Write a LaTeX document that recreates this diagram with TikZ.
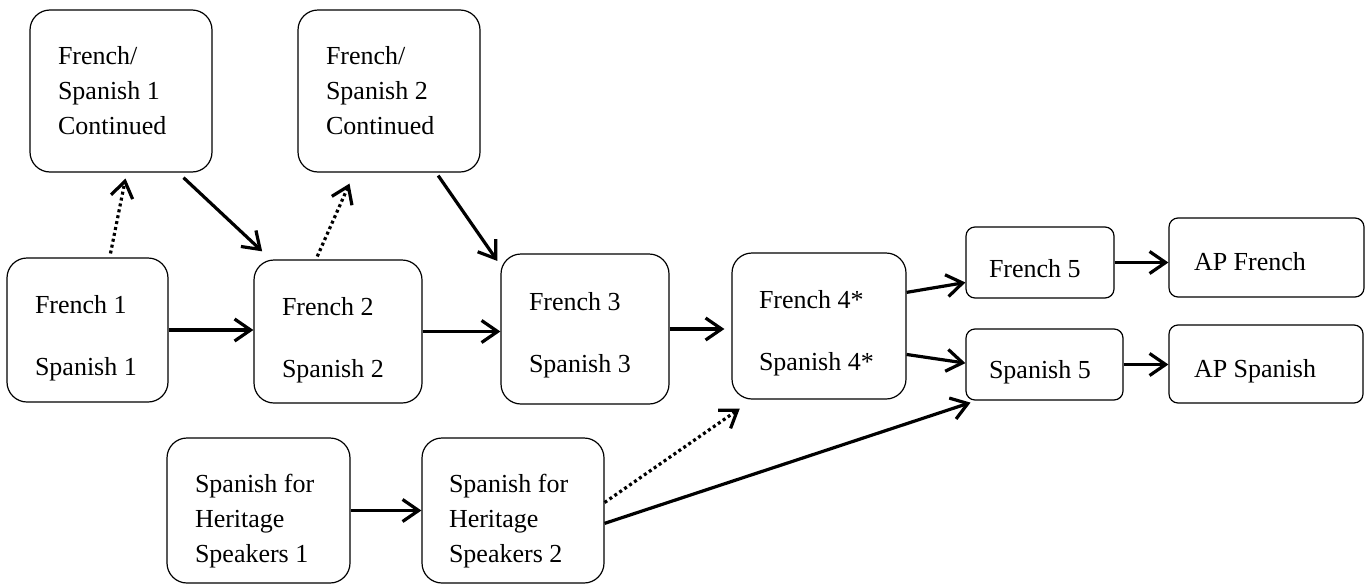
\documentclass[tikz,border=0pt]{standalone}
\usepackage{fontspec}
\setmainfont{Liberation Serif}
\usetikzlibrary{arrows.meta}
\newcommand{\padtop}[1]{\rule{0pt}{#1}}

\begin{document}
\begin{tikzpicture}[x=0.5pt, y=-0.5pt,
        course/.style={draw, rounded corners=10pt, line width=0.6pt, align=flush left,
            font=\fontsize{13}{17.5}\selectfont, inner ysep=0pt},
        short/.style={course, rounded corners=4.5pt},
        pass/.style={line width=1.6pt, -{Straight Barb[length=8pt,width=11pt]}},
        maybe/.style={pass, dash pattern=on 1.5pt off 1.5pt}]
        \useasboundingbox (0,0) rectangle (1371,584);
        \draw (121,91) node[course, text width=63pt, inner xsep=14pt, minimum height=81pt](c1){French/\\Spanish~1\\Continued}
        (389,91) node[course, text width=63pt, inner xsep=14pt, minimum height=81pt](c2){French/\\Spanish~2\\Continued}
        (87.5,330) node[course, text width=52.5pt, inner xsep=14pt, minimum height=72pt](f1){\padtop{17pt}French~1\\[13.5pt]Spanish~1}
        (338,331.5) node[course, text width=56pt, inner xsep=14pt, minimum height=71.5pt](f2){\padtop{17.5pt}French~2\\[13.5pt]Spanish~2}
        (585,329) node[course, text width=56pt, inner xsep=14pt, minimum height=75pt](f3){\padtop{15pt}French~3\\[13.5pt]Spanish~3}
        (819,326) node[course, text width=60pt, inner xsep=13.5pt, minimum height=73pt](f4){\padtop{16pt}French~4*\\[13.5pt]Spanish~4*}
        (1040,262.5) node[short, text width=51pt, inner xsep=11.5pt, minimum height=35.5pt](f5){\padtop{15.5pt}French~5}
        (1044.5,364.5) node[short, text width=55.5pt, inner xsep=11.5pt, minimum height=35.5pt](sp5){\padtop{16.5pt}Spanish~5}
        (1266.5,257.5) node[short, text width=72.5pt, inner xsep=12.5pt, minimum height=39.5pt](apf){\padtop{13.5pt}AP~French}
        (1266,364) node[short, text width=72pt, inner xsep=12.5pt, minimum height=39pt](aps){\padtop{16pt}AP~Spanish}
        (258.5,510.5) node[course, text width=63.5pt, inner xsep=14pt, minimum height=72.5pt](sh1){\padtop{20pt}Spanish~for\\Heritage\\Speakers~1}
        (513,510.5) node[course, text width=64pt, inner xsep=13.5pt, minimum height=72.5pt](sh2){\padtop{20pt}Spanish~for\\Heritage\\Speakers~2};
        % continued courses
        \draw[maybe, shorten <=2pt, shorten >=3pt] (f1.73) -- (c1.274);
        \draw[pass, shorten <=3.7pt, shorten >=5.9pt] (c1.305) -- (f2.133);
        \draw[maybe, shorten <=1.6pt, shorten >=6pt] (f2.107) -- (c2.247);
        \draw[pass, shorten <=1.8pt, shorten >=2.6pt] (c2.300) -- (f3.143);
        % main line
        \draw[pass] (f1.east) -- (f1.east -| f2.west);
        \draw[pass] (f2.east) -- (f2.east -| f3.west);
        \draw[pass, shorten >=3.5pt] (f3.east) -- (f3.east -| f4.west);
        \draw[pass] (f4.21) -- (f5.195);
        \draw[pass] (f4.342) -- (sp5.179);
        \draw[pass] (f5.east) -- (f5.east -| apf.west);
        \draw[pass] (sp5.east) -- (sp5.east -| aps.west);
        % heritage speakers
        \draw[pass] (sh1.east) -- (sh1.east -| sh2.west);
        \draw[maybe, shorten >=7.9pt] (sh2.5) -- (f4.228);
        \draw[pass, shorten >=3.2pt] (sh2.352) -- (sp5.208);
    \end{tikzpicture}
\end{document}
